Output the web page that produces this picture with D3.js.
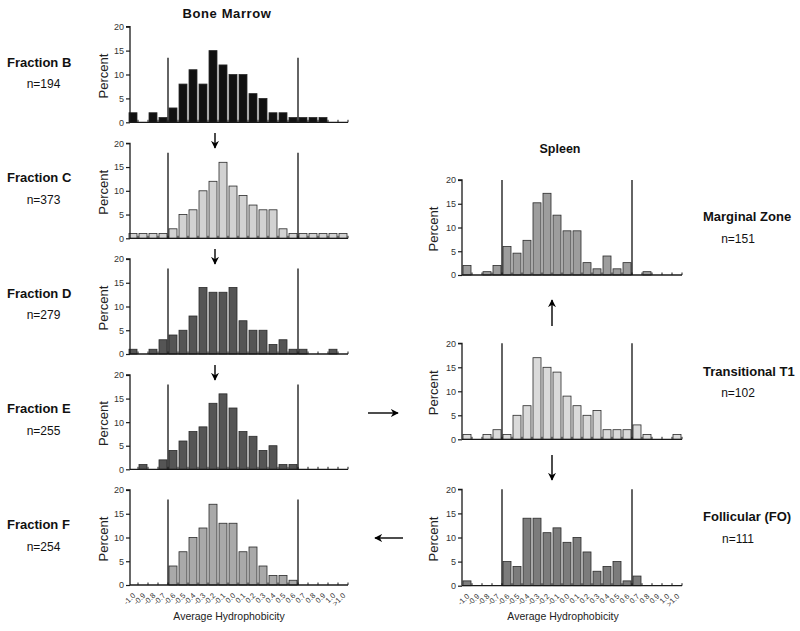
<!DOCTYPE html>
<html>
<head>
<meta charset="utf-8">
<script src="https://cdn.jsdelivr.net/npm/d3@7"></script>
<style>
  html, body { margin: 0; padding: 0; background: #fff; }
  svg { display: block; font-family: "Liberation Sans", Arial, sans-serif; }
</style>
</head>
<body>
<svg id="chart" width="800" height="631"></svg>
<script>
// ---------------- DATA ----------------
const bins = ["-1.0","-0.9","-0.8","-0.7","-0.6","-0.5","-0.4","-0.3","-0.2","-0.1","0.0",
              "0.1","0.2","0.3","0.4","0.5","0.6","0.7","0.8","0.9","1.0",">1.0"];
const yTicks = [0, 5, 10, 15, 20];

const fractionB = [2,0,2,1,3,8,11,8,15,12,10,10,6,5,2,2,1,1,1,1,0,0];
const fractionC = [1,1,1,1,2,5,6,10,12,16,11,9,7,6,6,2,1,1,1,1,1,1];
const fractionD = [1,0,1,3,4,5,8,14,13,13,14,7,5,5,2,3,1,1,0,0,1,0];
const fractionE = [0,1,0,2,4,6,8,9,14,16,13,8,7,4,5,1,1,0,0,0,0,0];
const fractionF = [0,0,0,0,4,7,10,12,17,13,13,7,8,4,2,2,1,0,0,0,0,0];
const marginalZone = [2.0,0,0.7,2.0,6.0,4.6,7.3,15.2,17.2,12.6,9.3,9.3,2.6,1.3,4.0,1.3,2.6,0,0.7,0,0,0];
const transitionalT1 = [1,0,1,2,1,5,7,17,15,14,9,7,5,6,2,2,2,3,1,0,0,1];
const follicular = [1,0,0,0,5,4,14,14,11,12,9,10,7,3,4,5,1,2,0,0,0,0];

const panelNames = ["Fraction B","Fraction C","Fraction D","Fraction E","Fraction F",
                    "Marginal Zone","Transitional T1","Follicular (FO)"];
const panelCounts = ["n=194","n=373","n=279","n=255","n=254","n=151","n=102","n=111"];
const groupTitles = ["Bone Marrow","Spleen"];
const xAxisTitle = "Average Hydrophobicity";
const yAxisTitle = "Percent";
const refLineHeights = [13.5, 18, 18, 18, 18, 20, 20, 20];

// ---------------- LAYOUT ----------------
const seriesList = [fractionB, fractionC, fractionD, fractionE, fractionF,
                    marginalZone, transitionalT1, follicular];
const layout = [
  {x0:128, axisX:130, yTop:26.7,  yZero:122.3, fill:"#111111", labelX:7,   nX:43.5, labelY:62,  nY:83,  ticks:false, pctX:103},
  {x0:128, axisX:130, yTop:143.3, yZero:238.3, fill:"#d2d2d2", labelX:7,   nX:43.5, labelY:177, nY:199, ticks:false, pctX:103},
  {x0:128, axisX:130, yTop:259,   yZero:354,   fill:"#555555", labelX:7,   nX:43.5, labelY:293, nY:314, ticks:false, pctX:103},
  {x0:128, axisX:130, yTop:375,   yZero:469.3, fill:"#555555", labelX:7,   nX:43.5, labelY:408, nY:430, ticks:false, pctX:103},
  {x0:128, axisX:130, yTop:490,   yZero:585,   fill:"#a9a9a9", labelX:7,   nX:43.5, labelY:524, nY:546, ticks:true,  pctX:103},
  {x0:462, axisX:462, yTop:180,   yZero:275,   fill:"#9d9d9d", labelX:703, nX:738,  labelY:216, nY:238, ticks:false, pctX:433},
  {x0:462, axisX:462, yTop:343.3, yZero:439.3, fill:"#dadada", labelX:703, nX:738,  labelY:371, nY:392, ticks:false, pctX:433},
  {x0:462, axisX:462, yTop:489.3, yZero:585.7, fill:"#7c7c7c", labelX:703, nX:738,  labelY:516, nY:538, ticks:true,  pctX:433}
];

const svg = d3.select("#chart");
const axisColor = "#1a1a1a";

// arrowhead marker
svg.append("defs").append("marker")
  .attr("id", "arrow").attr("viewBox", "0 0 10 10")
  .attr("refX", 9).attr("refY", 5)
  .attr("markerWidth", 8).attr("markerHeight", 8)
  .attr("markerUnits", "userSpaceOnUse")
  .attr("orient", "auto")
  .append("path").attr("d", "M0,0 L10,5 L0,10 L3,5 Z").attr("fill", "#000");

seriesList.forEach((values, pi) => {
  const L = layout[pi];
  const x = d3.scaleBand().domain(bins).range([L.x0, L.x0 + 220])
    .paddingInner(0.2).paddingOuter(0.1);
  const y = d3.scaleLinear().domain([0, 20]).range([L.yZero, L.yTop]);
  const step = x.step();
  const gap = (step - x.bandwidth()) / 2;
  const boundary = i => x(bins[i]) - gap;
  const g = svg.append("g");

  // bars
  g.selectAll("rect.bar").data(values.map((v, i) => ({v, c: bins[i]})).filter(d => d.v > 0))
    .join("rect").attr("class", "bar")
    .attr("x", d => x(d.c)).attr("width", x.bandwidth())
    .attr("y", d => y(d.v)).attr("height", d => y(0) - y(d.v))
    .attr("fill", L.fill).attr("stroke", "#2a2a2a").attr("stroke-width", 0.8);

  // y axis
  const yAxis = d3.axisLeft(y).tickValues(yTicks).tickSize(4).tickPadding(2);
  const ya = g.append("g").attr("transform", `translate(${L.axisX},0)`).call(yAxis);
  ya.select(".domain").attr("stroke", axisColor).attr("stroke-width", 1.3)
    .attr("d", `M-4,${y(20)}H0V${y(0)}`);
  ya.selectAll(".tick line").attr("stroke", axisColor).attr("stroke-width", 1.2);
  ya.selectAll(".tick text").attr("font-size", 9).attr("fill", "#333")
    .attr("font-family", "Liberation Sans, Arial, sans-serif");

  // x axis baseline and tick marks at bin boundaries
  const xEnd = boundary(0) + step * bins.length;
  g.append("line").attr("x1", L.axisX).attr("x2", xEnd)
    .attr("y1", y(0)).attr("y2", y(0))
    .attr("stroke", axisColor).attr("stroke-width", 1.3);
  g.selectAll("line.xt").data(d3.range(1, bins.length + 1)).join("line").attr("class", "xt")
    .attr("x1", i => boundary(0) + step * i).attr("x2", i => boundary(0) + step * i)
    .attr("y1", y(0)).attr("y2", y(0) - 2.5)
    .attr("stroke", axisColor).attr("stroke-width", 1);

  // reference lines between -0.7/-0.6 and 0.6/0.7
  [4, 17].forEach(i => {
    g.append("line").attr("x1", boundary(i)).attr("x2", boundary(i))
      .attr("y1", y(0)).attr("y2", y(refLineHeights[pi]))
      .attr("stroke", "#111").attr("stroke-width", 1.3);
  });

  // Percent label
  g.append("text").attr("transform", `translate(${L.pctX},${(L.yZero + L.yTop) / 2 + 1.5}) rotate(-90)`)
    .attr("text-anchor", "middle").attr("dominant-baseline", "central")
    .attr("font-size", 13).attr("fill", "#222")
    .text(yAxisTitle);

  // tick labels (bottom panels only)
  if (L.ticks) {
    g.selectAll("text.xl").data(bins).join("text").attr("class", "xl")
      .attr("transform", d => `translate(${x(d) + x.bandwidth() / 2 + 3},${y(0) + 11}) rotate(-45)`)
      .attr("text-anchor", "end").attr("font-size", 7.5).attr("fill", "#333")
      .text(d => d);
    g.append("text").attr("x", L.x0 + 101).attr("y", 620)
      .attr("text-anchor", "middle").attr("font-size", 10.5).attr("fill", "#222")
      .text(xAxisTitle);
  }

  // panel labels
  svg.append("text").attr("x", L.labelX).attr("y", L.labelY + 4.5)
    .attr("font-size", 13).attr("font-weight", "bold").attr("fill", "#111")
    .text(panelNames[pi]);
  svg.append("text").attr("x", L.nX).attr("y", L.nY + 4.5).attr("text-anchor", "middle")
    .attr("font-size", 12).attr("fill", "#111")
    .text(panelCounts[pi]);
});

// group titles
svg.append("text").attr("x", 227).attr("y", 18).attr("text-anchor", "middle")
  .attr("font-size", 13).attr("font-weight", "bold").attr("letter-spacing", 0.6).attr("fill", "#111")
  .text(groupTitles[0]);
svg.append("text").attr("x", 560).attr("y", 152.5).attr("text-anchor", "middle")
  .attr("font-size", 12.5).attr("font-weight", "bold").attr("fill", "#111")
  .text(groupTitles[1]);

// arrows
const arrows = [
  [215, 133, 215, 148],
  [215, 249, 215, 264],
  [215, 365, 215, 380],
  [368, 413, 398, 413],
  [552, 326, 552, 300],
  [552, 455, 552, 480],
  [403, 538, 375, 538]
];
svg.selectAll("line.arrow").data(arrows).join("line").attr("class", "arrow")
  .attr("x1", d => d[0]).attr("y1", d => d[1]).attr("x2", d => d[2]).attr("y2", d => d[3])
  .attr("stroke", "#000").attr("stroke-width", 1.4).attr("marker-end", "url(#arrow)");
</script>
</body>
</html>
